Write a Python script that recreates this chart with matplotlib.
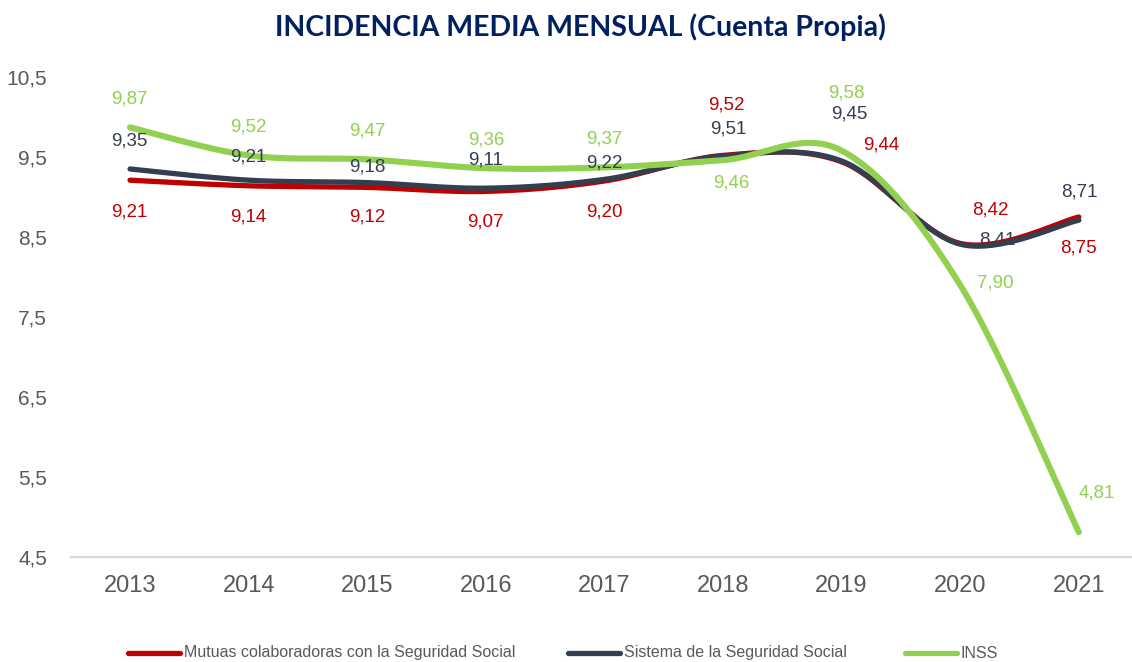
import numpy as np
import matplotlib
matplotlib.use('Agg')
import matplotlib.pyplot as plt
from matplotlib.lines import Line2D

# datos
years = ['2013', '2014', '2015', '2016', '2017', '2018', '2019', '2020', '2021']
mutuas = [9.21, 9.14, 9.12, 9.07, 9.20, 9.52, 9.44, 8.42, 8.75]
sistema = [9.35, 9.21, 9.18, 9.11, 9.22, 9.51, 9.45, 8.41, 8.71]
inss = [9.87, 9.52, 9.47, 9.36, 9.37, 9.46, 9.58, 7.90, 4.81]
yticks = [4.5, 5.5, 6.5, 7.5, 8.5, 9.5, 10.5]

ROJO = '#C00000'
OSCURO = '#333F50'
VERDE = '#92D050'
GRIS = '#595959'


def suavizar(y, n=40):
    # curva suavizada tipo Excel (Bezier por Catmull-Rom)
    pts = np.column_stack([np.arange(len(y)), y]).astype(float)
    t = np.linspace(0, 1, n)[:, None]
    out = []
    for i in range(len(pts) - 1):
        p0 = pts[max(i - 1, 0)]
        p1 = pts[i]
        p2 = pts[i + 1]
        p3 = pts[min(i + 2, len(pts) - 1)]
        c1 = p1 + (p2 - p0) / 6
        c2 = p2 - (p3 - p1) / 6
        seg = ((1 - t) ** 3) * p1 + 3 * ((1 - t) ** 2) * t * c1 + 3 * (1 - t) * t ** 2 * c2 + t ** 3 * p2
        out.append(seg if i == 0 else seg[1:])
    out = np.vstack(out)
    return out[:, 0], out[:, 1]


fig = plt.figure(figsize=(11.32, 6.62), dpi=100)
ax = fig.add_axes([0.0625, 0.1586, 0.9429, 0.7251])

series = [
    ('Mutuas colaboradoras con la Seguridad Social', mutuas, ROJO, 3.8,
     [(-1, -32), (0, -31), (0, -30), (0, -31), (0, -31), (3, 50), (40, 17), (30, 33), (0, -31)]),
    ('Sistema de la Seguridad Social', sistema, OSCURO, 3.8,
     [(-1, 28), (0, 23), (0, 16), (0, 28), (0, 16), (5, 27), (8, 47), (37, 4), (1, 28)]),
    ('INSS', inss, VERDE, 4.4,
     [(-1, 28), (0, 28), (0, 28), (0, 28), (0, 28), (8, -23), (5, 58), (35, 2), (18, 39)]),
]

for nombre, vals, color, lw, offs in series:
    xs, ys = suavizar(vals)
    ax.plot(xs, ys, color=color, lw=lw, solid_capstyle='round', clip_on=False)
    for i, v in enumerate(vals):
        ax.annotate(f'{v:.2f}'.replace('.', ','), (i, v), xytext=offs[i],
                    textcoords='offset pixels', ha='center', va='center',
                    fontsize=13.5, color=color, family='Liberation Sans')

ax.set_xlim(-0.5, 8.5)
ax.set_ylim(4.5, 10.5)
ax.set_xticks(range(len(years)))
ax.set_xticklabels(years, fontsize=17, color=GRIS, family='Liberation Sans')
ax.set_yticks(yticks)
ax.set_yticklabels([f'{v:.1f}'.replace('.', ',') for v in yticks],
                   fontsize=15, color=GRIS, family='Liberation Sans')
ax.tick_params(axis='both', length=0)
ax.tick_params(axis='x', pad=13)
ax.tick_params(axis='y', pad=17)
for s in ['top', 'right', 'left']:
    ax.spines[s].set_visible(False)
ax.spines['bottom'].set_color('#D9D9D9')
ax.spines['bottom'].set_linewidth(1.6)

fig.text(580 / 1132, 1 - 27 / 662, 'INCIDENCIA MEDIA MENSUAL (Cuenta Propia)',
         ha='center', va='center', fontsize=20.5, fontweight='bold',
         color='#002060', family='Lato')

# leyenda a mano
W, H = 1132, 662
ley = [(128, ROJO, series[0][0]), (568, OSCURO, series[1][0]), (905, VERDE, series[2][0])]
for x0, color, texto in ley:
    fig.add_artist(Line2D([x0 / W, (x0 + 52) / W], [1 - 653 / H] * 2, color=color,
                          lw=3.8, solid_capstyle='round'))
    fig.text((x0 + 56) / W, 1 - 653 / H, texto, ha='left', va='center', fontsize=11.5,
             color=GRIS, family=['Liberation Sans Narrow', 'Liberation Sans'])

fig.savefig('out.png', dpi=100)
